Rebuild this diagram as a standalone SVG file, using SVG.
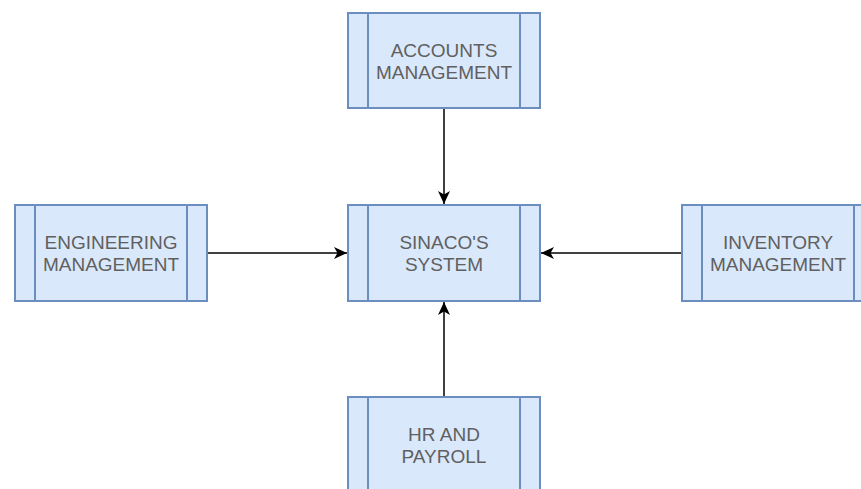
<svg xmlns="http://www.w3.org/2000/svg" width="861" height="489" viewBox="0 0 861 489">
  <style>
    .box { fill: #dae8fc; stroke: #6c8ebf; stroke-width: 2; }
    .bar { fill: none; stroke: #6c8ebf; stroke-width: 2; }
    .label { font-family: "Liberation Sans", Arial, sans-serif; font-size: 19px; fill: #606060; text-anchor: middle; }
    .edge { fill: none; stroke: #000; stroke-width: 1.5; }
  </style>
  <defs>
    <marker id="arrow" viewBox="0 0 14 14" refX="13" refY="7" markerWidth="14" markerHeight="14" markerUnits="userSpaceOnUse" orient="auto">
      <path d="M0,1 L13,7 L0,13 L3.5,7 Z" fill="#000"/>
    </marker>
  </defs>

  <rect width="861" height="489" fill="#ffffff"/>

  <!-- connectors -->
  <g id="connectors">
    <line class="edge" x1="444" y1="108" x2="444" y2="204" marker-end="url(#arrow)"/>
    <line class="edge" x1="207" y1="253" x2="347" y2="253" marker-end="url(#arrow)"/>
    <line class="edge" x1="682" y1="253" x2="541" y2="253" marker-end="url(#arrow)"/>
    <line class="edge" x1="444" y1="397" x2="444" y2="302" marker-end="url(#arrow)"/>
  </g>

  <!-- process nodes -->
  <g id="accounts">
    <rect class="box" x="348" y="13" width="192" height="95"/>
    <line class="bar" x1="368" y1="13" x2="368" y2="108"/>
    <line class="bar" x1="520" y1="13" x2="520" y2="108"/>
    <text class="label" x="444" y="57">ACCOUNTS</text>
    <text class="label" x="444" y="79">MANAGEMENT</text>
  </g>

  <g id="sinaco">
    <rect class="box" x="348" y="205" width="192" height="96"/>
    <line class="bar" x1="368" y1="205" x2="368" y2="301"/>
    <line class="bar" x1="520" y1="205" x2="520" y2="301"/>
    <text class="label" x="444" y="249">SINACO'S</text>
    <text class="label" x="444" y="271">SYSTEM</text>
  </g>

  <g id="engineering">
    <rect class="box" x="15" y="205" width="192" height="96"/>
    <line class="bar" x1="35" y1="205" x2="35" y2="301"/>
    <line class="bar" x1="187" y1="205" x2="187" y2="301"/>
    <text class="label" x="111" y="249">ENGINEERING</text>
    <text class="label" x="111" y="271">MANAGEMENT</text>
  </g>

  <g id="inventory">
    <rect class="box" x="682" y="205" width="192" height="96"/>
    <line class="bar" x1="702" y1="205" x2="702" y2="301"/>
    <line class="bar" x1="854" y1="205" x2="854" y2="301"/>
    <text class="label" x="778" y="249">INVENTORY</text>
    <text class="label" x="778" y="271">MANAGEMENT</text>
  </g>

  <g id="hr-payroll">
    <rect class="box" x="348" y="397" width="192" height="96"/>
    <line class="bar" x1="368" y1="397" x2="368" y2="493"/>
    <line class="bar" x1="520" y1="397" x2="520" y2="493"/>
    <text class="label" x="444" y="441">HR AND</text>
    <text class="label" x="444" y="463">PAYROLL</text>
  </g>
</svg>
